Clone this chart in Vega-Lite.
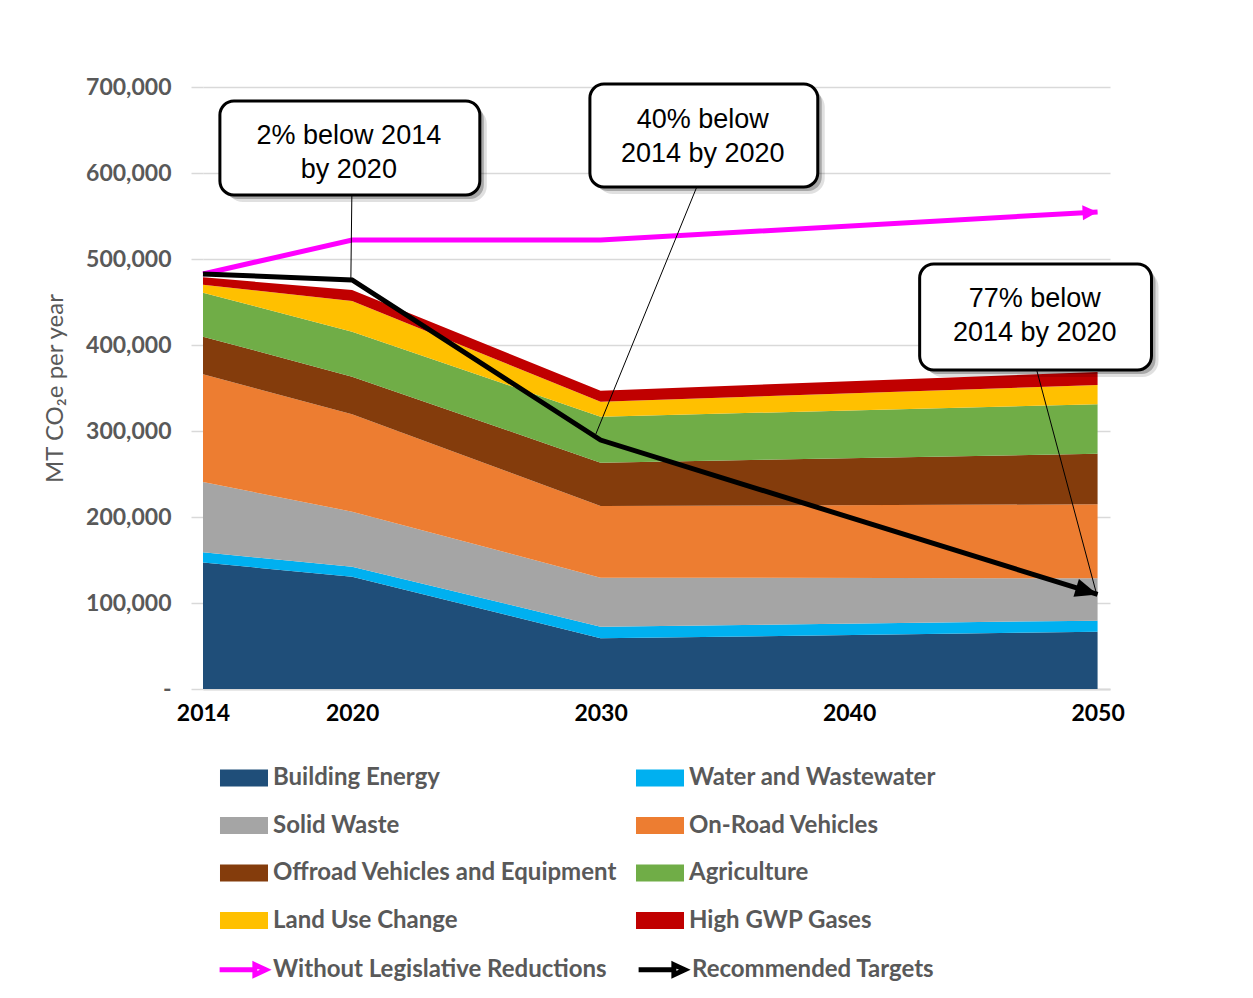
{
  "$schema": "https://vega.github.io/schema/vega-lite/v6.json",
  "width": 907,
  "height": 602,
  "autosize": {"type": "none"},
  "padding": {"left": 203, "top": 87, "right": 143, "bottom": 309},
  "background": "white",
  "config": {
    "view": {"stroke": null},
    "font": "Lato",
    "axisX": {
      "labelFont": "Lato", "labelFontWeight": "bold", "labelFontSize": 23,
      "labelColor": "#000000", "labelPadding": 13, "ticks": false, "grid": false,
      "domainColor": "#d9d9d9", "domainWidth": 2, "labelFlush": false, "labelOverlap": false
    },
    "axisY": {
      "titleFont": "Lato", "titleFontWeight": "normal", "titleFontSize": 24,
      "titleColor": "#595959", "titlePadding": 18,
      "labelFont": "Lato", "labelFontWeight": "bold", "labelFontSize": 23,
      "labelColor": "#595959", "labelPadding": 20, "tickSize": 12,
      "tickColor": "#d9d9d9", "tickWidth": 1.5, "gridColor": "#d9d9d9",
      "gridWidth": 1.5, "domain": false, "labelOverlap": false
    }
  },
  "datasets": {
    "areas": [
      {"year": 2014, "category": "Building Energy", "value": 147000},
      {"year": 2014, "category": "Water and Wastewater", "value": 12000},
      {"year": 2014, "category": "Solid Waste", "value": 81700},
      {"year": 2014, "category": "On-Road Vehicles", "value": 125300},
      {"year": 2014, "category": "Offroad Vehicles and Equipment", "value": 43700},
      {"year": 2014, "category": "Agriculture", "value": 51100},
      {"year": 2014, "category": "Land Use Change", "value": 9200},
      {"year": 2014, "category": "High GWP Gases", "value": 8700},
      {"year": 2020, "category": "Building Energy", "value": 130600},
      {"year": 2020, "category": "Water and Wastewater", "value": 11600},
      {"year": 2020, "category": "Solid Waste", "value": 64000},
      {"year": 2020, "category": "On-Road Vehicles", "value": 113200},
      {"year": 2020, "category": "Offroad Vehicles and Equipment", "value": 43800},
      {"year": 2020, "category": "Agriculture", "value": 52300},
      {"year": 2020, "category": "Land Use Change", "value": 35700},
      {"year": 2020, "category": "High GWP Gases", "value": 12800},
      {"year": 2030, "category": "Building Energy", "value": 58900},
      {"year": 2030, "category": "Water and Wastewater", "value": 13600},
      {"year": 2030, "category": "Solid Waste", "value": 57000},
      {"year": 2030, "category": "On-Road Vehicles", "value": 83300},
      {"year": 2030, "category": "Offroad Vehicles and Equipment", "value": 50400},
      {"year": 2030, "category": "Agriculture", "value": 53500},
      {"year": 2030, "category": "Land Use Change", "value": 17400},
      {"year": 2030, "category": "High GWP Gases", "value": 12800},
      {"year": 2050, "category": "Building Energy", "value": 66700},
      {"year": 2050, "category": "Water and Wastewater", "value": 12800},
      {"year": 2050, "category": "Solid Waste", "value": 49200},
      {"year": 2050, "category": "On-Road Vehicles", "value": 86000},
      {"year": 2050, "category": "Offroad Vehicles and Equipment", "value": 58900},
      {"year": 2050, "category": "Agriculture", "value": 57400},
      {"year": 2050, "category": "Land Use Change", "value": 22500},
      {"year": 2050, "category": "High GWP Gases", "value": 15100}
    ],
    "lines": [
      {"year": 2014, "category": "Without Legislative Reductions", "value": 482600},
      {"year": 2020, "category": "Without Legislative Reductions", "value": 522000},
      {"year": 2030, "category": "Without Legislative Reductions", "value": 522000},
      {"year": 2050, "category": "Without Legislative Reductions", "value": 554700},
      {"year": 2014, "category": "Recommended Targets", "value": 482600},
      {"year": 2020, "category": "Recommended Targets", "value": 475600},
      {"year": 2030, "category": "Recommended Targets", "value": 289500},
      {"year": 2050, "category": "Recommended Targets", "value": 110000}
    ],
    "boxes": [
      {"x1": 2014.68, "x2": 2025.14, "y1": 683700, "y2": 574400},
      {"x1": 2029.57, "x2": 2038.74, "y1": 703500, "y2": 583700},
      {"x1": 2042.84, "x2": 2052.17, "y1": 494200, "y2": 370900}
    ],
    "notes": [
      {"year": 2019.87, "value": 643000, "label": "2% below 2014\nby 2020"},
      {"year": 2034.11, "value": 661600, "label": "40% below\n2014 by 2020"},
      {"year": 2047.47, "value": 453500, "label": "77% below\n2014 by 2020"}
    ],
    "leaders": [
      {"x1": 2019.99, "y1": 574400, "x2": 2019.95, "y2": 475600},
      {"x1": 2033.87, "y1": 583700, "x2": 2029.81, "y2": 296500},
      {"x1": 2047.55, "y1": 370900, "x2": 2049.96, "y2": 110500}
    ]
  },
  "layer": [
    {
      "data": {"name": "areas"},
      "transform": [
        {"calculate": "indexof(['Building Energy','Water and Wastewater','Solid Waste','On-Road Vehicles','Offroad Vehicles and Equipment','Agriculture','Land Use Change','High GWP Gases'], datum.category)", "as": "stackOrder"}
      ],
      "mark": {"type": "area", "opacity": 1},
      "encoding": {
        "x": {
          "field": "year", "type": "quantitative", "title": null,
          "scale": {"domain": [2014, 2050.5], "nice": false, "zero": false},
          "axis": {"values": [2014, 2020, 2030, 2040, 2050], "format": "d"}
        },
        "y": {
          "field": "value", "type": "quantitative", "stack": "zero",
          "title": "MT CO₂e per year",
          "scale": {"domain": [0, 700000], "nice": false},
          "axis": {
            "values": [0, 100000, 200000, 300000, 400000, 500000, 600000, 700000],
            "labelExpr": "datum.value == 0 ? '-' : format(datum.value, ',')"
          }
        },
        "order": {"field": "stackOrder", "type": "quantitative", "sort": "ascending"},
        "fill": {
          "field": "category", "type": "nominal",
          "scale": {
            "domain": ["Building Energy", "Water and Wastewater", "Solid Waste", "On-Road Vehicles", "Offroad Vehicles and Equipment", "Agriculture", "Land Use Change", "High GWP Gases"],
            "range": ["#1F4E79", "#00B0F0", "#A5A5A5", "#ED7D31", "#843C0C", "#70AD47", "#FFC000", "#C00000"]
          },
          "legend": {
            "orient": "none", "legendX": 20, "legendY": 670, "direction": "horizontal", "columns": 2,
            "columnPadding": 17, "rowPadding": 14.5, "title": null,
            "labelFont": "Lato", "labelFontWeight": "bold", "labelFontSize": 24,
            "labelColor": "#595959", "labelOffset": 8, "labelLimit": 600,
            "symbolSize": 1722, "symbolType": "M-1.157,-0.41H1.157V0.41H-1.157Z",
            "symbolStrokeWidth": 0, "symbolOpacity": 1
          }
        }
      }
    },
    {
      "data": {"name": "lines"},
      "mark": {"type": "line", "strokeWidth": 5, "strokeCap": "butt", "strokeJoin": "miter"},
      "encoding": {
        "x": {"field": "year", "type": "quantitative", "title": null},
        "y": {"field": "value", "type": "quantitative", "title": "MT CO₂e per year"},
        "stroke": {
          "field": "category", "type": "nominal",
          "scale": {
            "domain": ["Without Legislative Reductions", "Recommended Targets"],
            "range": ["#FF00FF", "#000000"]
          },
          "legend": {
            "orient": "none", "legendX": 18, "legendY": 859, "direction": "horizontal", "columns": 2,
            "columnPadding": 21, "rowPadding": 0, "title": null,
            "labelFont": "Lato", "labelFontWeight": "bold", "labelFontSize": 24,
            "labelColor": "#595959", "labelOffset": 5, "labelLimit": 600,
            "symbolSize": 1722, "symbolType": "M-1.2,0H0.55M0.5,-0.24L1.02,0L0.5,0.24Z",
            "symbolStrokeWidth": 5, "symbolOpacity": 1
          }
        }
      }
    },
    {
      "data": {"name": "lines"},
      "transform": [{"filter": "datum.year == 2050 && datum.category == 'Recommended Targets'"}],
      "mark": {"type": "point", "shape": "M0,0L-1,-0.42L-1,0.42Z", "filled": true, "color": "#000000", "opacity": 1, "size": 2000, "angle": 17, "strokeWidth": 0},
      "encoding": {
        "x": {"field": "year", "type": "quantitative", "title": null},
        "y": {"field": "value", "type": "quantitative", "title": "MT CO₂e per year"}
      }
    },
    {
      "data": {"name": "lines"},
      "transform": [{"filter": "datum.year == 2050 && datum.category == 'Without Legislative Reductions'"}],
      "mark": {"type": "point", "shape": "M0,0L-1,-0.5L-1,0.5Z", "filled": true, "color": "#FF00FF", "opacity": 1, "size": 900, "angle": -3, "strokeWidth": 0},
      "encoding": {
        "x": {"field": "year", "type": "quantitative", "title": null},
        "y": {"field": "value", "type": "quantitative", "title": "MT CO₂e per year"}
      }
    },
    {
      "data": {"name": "leaders"},
      "mark": {"type": "rule", "color": "#000000", "strokeWidth": 1},
      "encoding": {
        "x": {"field": "x1", "type": "quantitative", "title": null},
        "y": {"field": "y1", "type": "quantitative", "title": "MT CO₂e per year"},
        "x2": {"field": "x2"},
        "y2": {"field": "y2"}
      }
    },
    {
      "data": {"name": "boxes"},
      "mark": {"type": "rect", "fill": "#000000", "opacity": 0.12, "cornerRadius": 16, "xOffset": 7, "x2Offset": 7, "yOffset": 7, "y2Offset": 7},
      "encoding": {
        "x": {"field": "x1", "type": "quantitative", "title": null},
        "x2": {"field": "x2"},
        "y": {"field": "y1", "type": "quantitative", "title": "MT CO₂e per year"},
        "y2": {"field": "y2"}
      }
    },
    {
      "data": {"name": "boxes"},
      "mark": {"type": "rect", "fill": "#000000", "opacity": 0.25, "cornerRadius": 14, "xOffset": 4, "x2Offset": 4, "yOffset": 4, "y2Offset": 4},
      "encoding": {
        "x": {"field": "x1", "type": "quantitative", "title": null},
        "x2": {"field": "x2"},
        "y": {"field": "y1", "type": "quantitative", "title": "MT CO₂e per year"},
        "y2": {"field": "y2"}
      }
    },
    {
      "data": {"name": "boxes"},
      "mark": {"type": "rect", "fill": "#FFFFFF", "stroke": "#000000", "strokeWidth": 3, "cornerRadius": 14, "opacity": 1},
      "encoding": {
        "x": {"field": "x1", "type": "quantitative", "title": null},
        "x2": {"field": "x2"},
        "y": {"field": "y1", "type": "quantitative", "title": "MT CO₂e per year"},
        "y2": {"field": "y2"}
      }
    },
    {
      "data": {"name": "notes"},
      "mark": {"type": "text", "font": "Liberation Sans", "fontSize": 27, "color": "#000000", "align": "center", "baseline": "middle", "lineBreak": "\n", "lineHeight": 34},
      "encoding": {
        "x": {"field": "year", "type": "quantitative", "title": null},
        "y": {"field": "value", "type": "quantitative", "title": "MT CO₂e per year"},
        "text": {"field": "label", "type": "nominal"}
      }
    }
  ]
}
